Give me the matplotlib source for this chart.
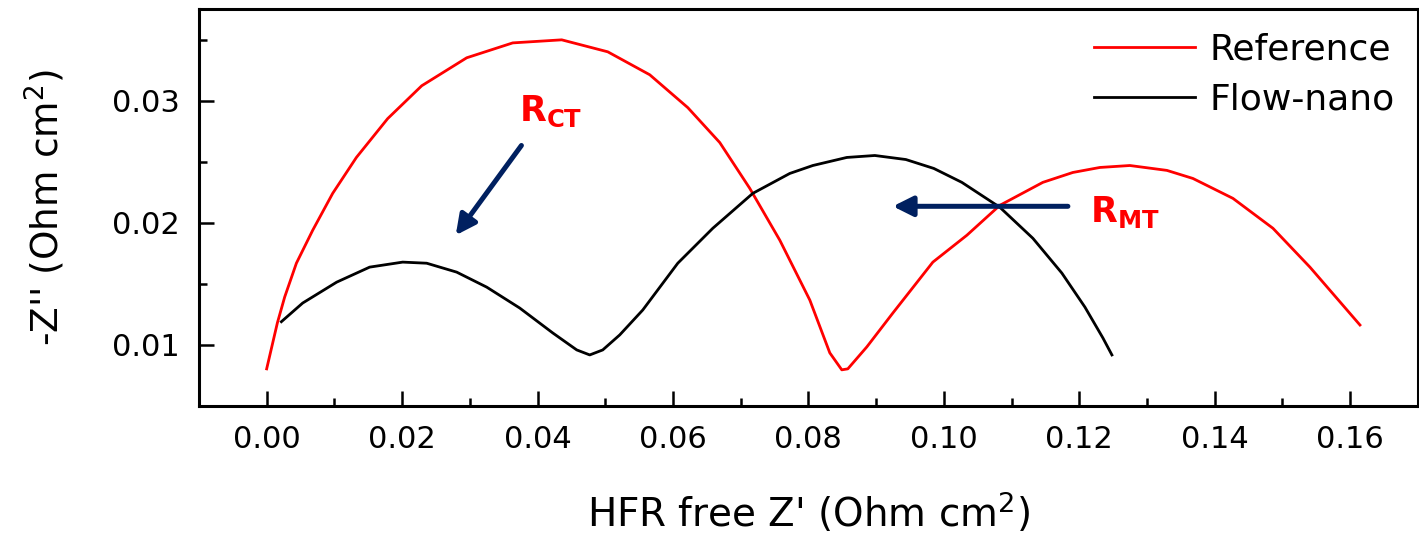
import numpy as np
import matplotlib
matplotlib.use("Agg")
import matplotlib.pyplot as plt
from matplotlib.ticker import MultipleLocator

# Nyquist data (HFR free Z', -Z'')
refX = [0.0000, 0.00158, 0.00266, 0.00439, 0.00680, 0.00975, 0.01325, 0.01787,
        0.02290, 0.02954, 0.03634, 0.04357, 0.05037, 0.05657, 0.06219, 0.06691,
        0.07134, 0.07578, 0.08021, 0.08316, 0.08493, 0.08582, 0.08863, 0.09247,
        0.09838, 0.10340, 0.10827, 0.11462, 0.11905, 0.12304, 0.12747, 0.13294,
        0.13678, 0.14269, 0.14860, 0.15406, 0.16145]
refY = [0.00804, 0.01180, 0.01392, 0.01669, 0.01939, 0.02241, 0.02535, 0.02853,
        0.03122, 0.03351, 0.03473, 0.03498, 0.03400, 0.03212, 0.02943, 0.02657,
        0.02282, 0.01857, 0.01367, 0.00935, 0.00796, 0.00804, 0.00984, 0.01261,
        0.01678, 0.01898, 0.02143, 0.02331, 0.02412, 0.02453, 0.02469, 0.02429,
        0.02363, 0.02200, 0.01955, 0.01637, 0.01163]

flowX = [0.00217, 0.00532, 0.01034, 0.01521, 0.02009, 0.02363, 0.02806, 0.03250,
         0.03737, 0.04225, 0.04579, 0.04771, 0.04963, 0.05214, 0.05554, 0.06071,
         0.06588, 0.07179, 0.07725, 0.08065, 0.08567, 0.08981, 0.09439, 0.09852,
         0.10266, 0.10827, 0.11315, 0.11743, 0.12083, 0.12349, 0.12482]
flowY = [0.01190, 0.01343, 0.01514, 0.01637, 0.01678, 0.01669, 0.01596, 0.01473,
         0.01302, 0.01098, 0.00959, 0.00918, 0.00959, 0.01082, 0.01286, 0.01669,
         0.01955, 0.02241, 0.02404, 0.02469, 0.02535, 0.02551, 0.02518, 0.02445,
         0.02331, 0.02127, 0.01873, 0.01588, 0.01310, 0.01057, 0.00918]

xTicks = [0.00, 0.02, 0.04, 0.06, 0.08, 0.10, 0.12, 0.14, 0.16]
yTicks = [0.01, 0.02, 0.03]

RED = '#FF0000'
NAVY = '#002060'

plt.rcParams['font.family'] = ['DejaVu Sans']

fig = plt.figure(figsize=(14.19, 5.33), dpi=100)
ax = fig.add_axes([0.1402, 0.2383, 0.859, 0.7447])

ax.plot(refX, refY, color=RED, lw=2.0, label='Reference')
ax.plot(flowX, flowY, color='black', lw=2.0, label='Flow-nano')

ax.set_xlim(-0.01, 0.17)
ax.set_ylim(0.005, 0.0375)
ax.set_xticks(xTicks)
ax.set_xticklabels([f'{v:.2f}' for v in xTicks])
ax.set_yticks(yTicks)
ax.set_yticklabels([f'{v:.2f}' for v in yTicks])
ax.xaxis.set_minor_locator(MultipleLocator(0.01))
ax.yaxis.set_minor_locator(MultipleLocator(0.005))

ax.tick_params(which='major', direction='in', length=11, width=1.8,
               labelsize=22, pad=14)
ax.tick_params(which='minor', direction='in', length=6, width=1.8)
for sp in ax.spines.values():
    sp.set_linewidth(2.2)

ax.set_xlabel("HFR free Z' (Ohm cm$^2$)", fontsize=28, labelpad=26)
ax.set_ylabel("-Z'' (Ohm cm$^2$)", fontsize=27, labelpad=32)

leg = ax.legend(loc='upper right', fontsize=26, frameon=False,
                handlelength=2.8, handletextpad=0.4, labelspacing=0.45,
                borderaxespad=0.25)

# annotations
ax.annotate('', xy=(0.02792, 0.01898), xytext=(0.03762, 0.02633),
            arrowprops=dict(arrowstyle='-|>', color=NAVY, lw=3.6,
                            mutation_scale=30, shrinkA=0, shrinkB=0))
ax.annotate('', xy=(0.09247, 0.02135), xytext=(0.11832, 0.02135),
            arrowprops=dict(arrowstyle='-|>', color=NAVY, lw=3.6,
                            mutation_scale=30, shrinkA=0, shrinkB=0))
ax.text(0.03722, 0.02837, r'$\mathbf{R_{CT}}$', color=RED, fontsize=25,
        ha='left', va='baseline')
ax.text(0.12157, 0.02004, r'$\mathbf{R_{MT}}$', color=RED, fontsize=25,
        ha='left', va='baseline')

fig.savefig('out.png', dpi=100)
